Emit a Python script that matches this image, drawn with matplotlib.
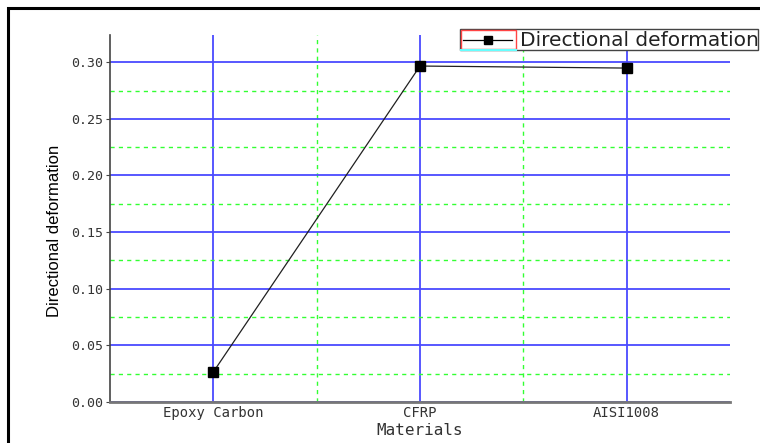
import numpy as np
import matplotlib.pyplot as plt
from matplotlib.patches import Rectangle
from matplotlib.lines import Line2D
from matplotlib.ticker import FixedLocator

materials = ['Epoxy Carbon', 'CFRP', 'AISI1008']
deformation = [0.0265, 0.2966, 0.2948]
y_ticks = [0.00, 0.05, 0.10, 0.15, 0.20, 0.25, 0.30]

plt.rcParams['font.family'] = ['Liberation Sans', 'DejaVu Sans']
mono = ['DejaVu Sans Mono']

W, H = 760, 443
fig = plt.figure(figsize=(W/100, H/100), dpi=100)
# axes box in pixels: left 110, right 730, bottom y=402, top y=35
ax = fig.add_axes([110/W, 1-402/H, 620/W, 367/H])

x = np.arange(len(materials))
line, = ax.plot(x, deformation, color='#202020', lw=0.9, marker='s', ms=7,
                mfc='black', mec='black', label='Directional deformation', zorder=5)

ax.set_xlim(-0.5, 2.5)
ax.set_ylim(0, 0.324)
ax.set_xticks(x)
ax.set_xticklabels(materials, family=mono, fontsize=10)
ax.xaxis.set_minor_locator(FixedLocator([0.5, 1.5]))
ax.set_yticks(y_ticks)
ax.set_yticklabels(['%.2f' % v for v in y_ticks], family=mono, fontsize=9.5)
ax.yaxis.set_minor_locator(FixedLocator(np.arange(0.025, 0.3, 0.05)))

ax.grid(which='major', color='#4a4aff', lw=1.3, ls='-')
ax.grid(which='minor', color='#33ff33', lw=1.0, ls=(0, (3, 3)))
ax.set_axisbelow(True)

ax.spines['top'].set_visible(False)
ax.spines['right'].set_visible(False)
ax.spines['left'].set_color('#444444')
ax.spines['bottom'].set_color('#777777')
ax.spines['bottom'].set_linewidth(2)
ax.spines['left'].set_linewidth(1.2)
ax.tick_params(axis='y', which='major', length=3, color='#444444',
               labelcolor='#333333', pad=2)
ax.tick_params(axis='x', which='major', length=0, labelcolor='#333333', pad=3)
ax.tick_params(which='minor', length=0)

ax.set_xlabel('Materials', fontsize=11.5, family=mono, color='#333333', labelpad=2)
ax.set_ylabel('Directional deformation', fontsize=12, color='black')
ax.yaxis.set_label_coords(-0.077, 0.465)

# legend, drawn by hand to get the boxed handle
fig.patches.append(Rectangle((460/W, 1-50/H), 298/W, 21/H, transform=fig.transFigure,
                             fill=True, fc='white', ec='#444444', lw=1.0, zorder=10))
fig.patches.append(Rectangle((461/W, 1-49/H), 55/W, 19/H, transform=fig.transFigure,
                             fill=False, ec='#ff4444', lw=1.0, zorder=11))
fig.lines.append(Line2D([461/W, 516/W], [1-50/H, 1-50/H], transform=fig.transFigure,
                        color='#66ffff', lw=1.5, zorder=12))
fig.lines.append(Line2D([463/W, 512/W], [1-39.5/H, 1-39.5/H], transform=fig.transFigure,
                        color='black', lw=0.9, zorder=12))
fig.lines.append(Line2D([488/W], [1-39.5/H], transform=fig.transFigure, marker='s', ms=5.5,
                        color='black', zorder=13))
fig.text(520/W, 1-40/H, line.get_label(), fontsize=14.5, family=['DejaVu Sans'],
         va='center', ha='left', color='#222222', zorder=13)

# outer frame
fig.patches.append(Rectangle((8/W, -0.05), 1.0, 1-8/H+0.05, transform=fig.transFigure,
                             fill=False, ec='black', lw=2.2))

fig.savefig('out.png', dpi=100)
